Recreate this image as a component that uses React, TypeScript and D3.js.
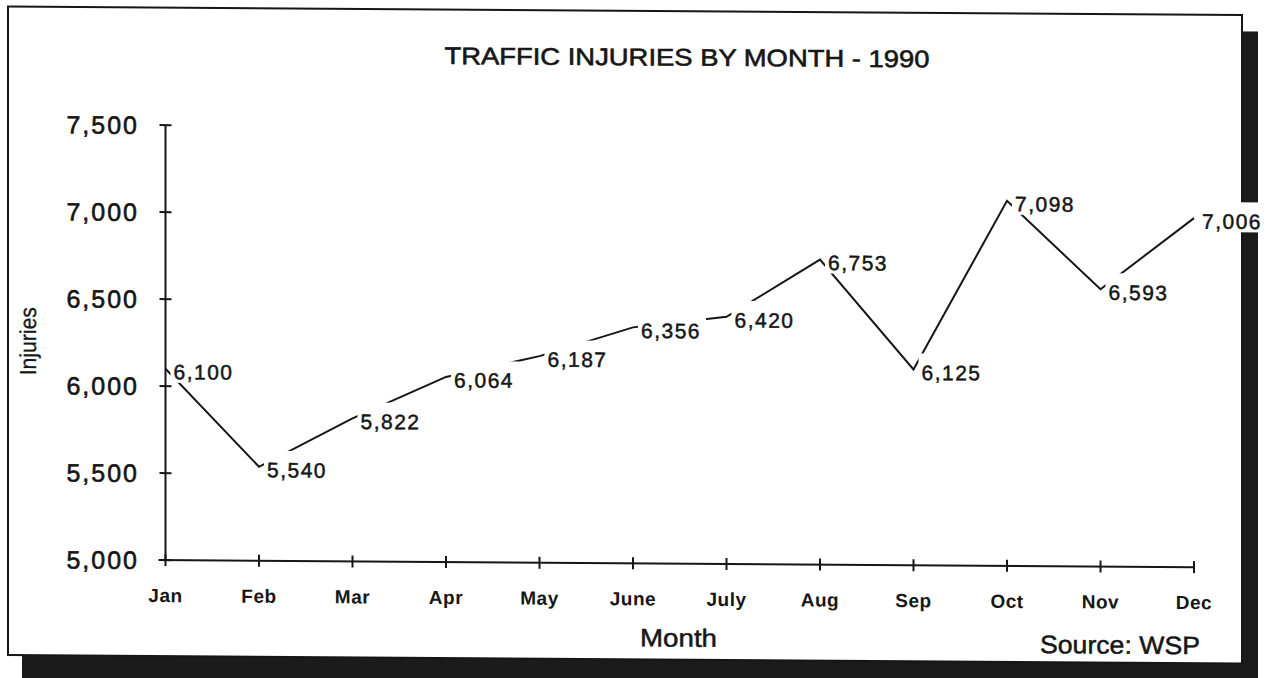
import React, { useRef, useEffect } from 'react';
import * as d3 from 'd3';

// chart values
const months = ["Jan", "Feb", "Mar", "Apr", "May", "June", "July", "Aug", "Sep", "Oct", "Nov", "Dec"];
const injuries = [6100, 5540, 5822, 6064, 6187, 6356, 6420, 6753, 6125, 7098, 6593, 7006];
const yTicks = [5000, 5500, 6000, 6500, 7000, 7500];

const FONT = "'Liberation Sans', Arial, Helvetica, sans-serif";
const INK = "#161616";

const App = () => {
  const svgRef = useRef<SVGSVGElement>(null);

  useEffect(() => {
    const svg = d3.select(svgRef.current);
    svg.selectAll("*").remove();

    // the scan is slightly sheared, horizontal lines drift down to the right
    const g = svg.append("g").attr("transform", "skewY(0.39)");

    // drop shadow + frame
    g.append("rect")
      .attr("x", 22).attr("y", 23)
      .attr("width", 1236).attr("height", 670)
      .attr("fill", "#1b1b1b");
    g.append("rect")
      .attr("x", 8).attr("y", 6.5)
      .attr("width", 1234).attr("height", 648.5)
      .attr("fill", "#fff")
      .attr("stroke", INK)
      .attr("stroke-width", 2);

    const x = d3.scalePoint<string>().domain(months).range([165.5, 1194]);
    const y = d3.scaleLinear().domain([5000, 7500]).range([559, 124]);
    const x0 = x("Jan") as number;
    const xEnd = x("Dec") as number;

    // heavier type, like the photocopied original
    const ink = (sel: any, w = 0.5) =>
      sel.style("fill", INK).style("stroke", INK).style("stroke-width", w);

    // title
    ink(g.append("text")
      .attr("x", 687).attr("y", 61)
      .attr("text-anchor", "middle")
      .attr("textLength", 485)
      .attr("lengthAdjust", "spacingAndGlyphs")
      .style("font-family", FONT).style("font-size", "24px")
      .text("TRAFFIC INJURIES BY MONTH - 1990"), 0.6);

    // y axis
    g.append("line")
      .attr("x1", x0).attr("x2", x0)
      .attr("y1", y(7500)).attr("y2", y(5000))
      .attr("stroke", INK).attr("stroke-width", 2);
    g.selectAll(".ytick")
      .data(yTicks)
      .enter()
      .append("line")
      .attr("x1", x0 - 6).attr("x2", x0 + 6)
      .attr("y1", d => y(d)).attr("y2", d => y(d))
      .attr("stroke", INK).attr("stroke-width", 2);
    ink(g.selectAll(".ylabel")
      .data(yTicks)
      .enter()
      .append("text")
      .attr("x", 139)
      .attr("y", d => y(d) + 9)
      .attr("text-anchor", "end")
      .style("font-family", FONT).style("font-size", "25px")
      .style("letter-spacing", "2px")
      .text(d => d3.format(",")(d)), 0.6);

    // y axis title
    ink(g.append("text")
      .attr("transform", "translate(36,341) rotate(-90)")
      .attr("text-anchor", "middle")
      .attr("textLength", 68)
      .attr("lengthAdjust", "spacingAndGlyphs")
      .style("font-family", "'Liberation Sans Narrow', 'Arial Narrow', " + FONT)
      .style("font-size", "23px")
      .text("Injuries"), 0.3);

    // x axis
    g.append("line")
      .attr("x1", x0 - 7).attr("x2", xEnd)
      .attr("y1", y(5000)).attr("y2", y(5000))
      .attr("stroke", INK).attr("stroke-width", 2);
    g.selectAll(".xtick")
      .data(months)
      .enter()
      .append("line")
      .attr("x1", d => x(d) as number).attr("x2", d => x(d) as number)
      .attr("y1", y(5000) - 6).attr("y2", y(5000) + 6)
      .attr("stroke", INK).attr("stroke-width", 2);
    g.selectAll(".xlabel")
      .data(months)
      .enter()
      .append("text")
      .attr("x", d => x(d) as number)
      .attr("y", y(5000) + 42)
      .attr("text-anchor", "middle")
      .style("font-family", FONT).style("font-size", "19px")
      .style("font-weight", "bold").style("letter-spacing", "0.5px")
      .style("fill", INK)
      .text(d => d);

    ink(g.append("text")
      .attr("x", 678.5).attr("y", 642)
      .attr("text-anchor", "middle")
      .attr("textLength", 77)
      .attr("lengthAdjust", "spacingAndGlyphs")
      .style("font-family", FONT).style("font-size", "25px")
      .text("Month"));

    ink(g.append("text")
      .attr("x", 1040).attr("y", 646)
      .attr("textLength", 160)
      .attr("lengthAdjust", "spacingAndGlyphs")
      .style("font-family", FONT).style("font-size", "25px")
      .text("Source: WSP"));

    // the data line
    const line = d3.line<number>()
      .x((d, i) => x(months[i]) as number)
      .y(d => y(d));
    g.append("path")
      .datum(injuries)
      .attr("d", line)
      .attr("fill", "none")
      .attr("stroke", INK)
      .attr("stroke-width", 2);

    // value labels, each sitting on a white box that knocks out the line
    const labels = g.selectAll(".val")
      .data(injuries)
      .enter()
      .append("g")
      .attr("class", "val");
    const boxes = labels.append("rect").attr("fill", "#fff");
    const texts = ink(labels.append("text")
      .attr("x", (d, i) => (x(months[i]) as number) + 8)
      .attr("y", d => y(d) + 10.5)
      .style("font-family", FONT).style("font-size", "21px")
      .style("letter-spacing", "1.5px")
      .text(d => d3.format(",")(d)));
    texts.each(function (d, i) {
      const w = (this as SVGTextElement).getComputedTextLength();
      const px = x(months[i]) as number;
      const cy = y(d) + 3;
      d3.select(boxes.nodes()[i])
        .attr("x", px + 5)
        .attr("y", cy - 19)
        .attr("width", w + 8)
        .attr("height", 30);
    });
  }, []);

  return (
    <svg
      ref={svgRef}
      width={1271}
      height={678}
      style={{ position: "absolute", left: 0, top: 0, display: "block", background: "#fff" }}
    ></svg>
  );
};

export default App;
